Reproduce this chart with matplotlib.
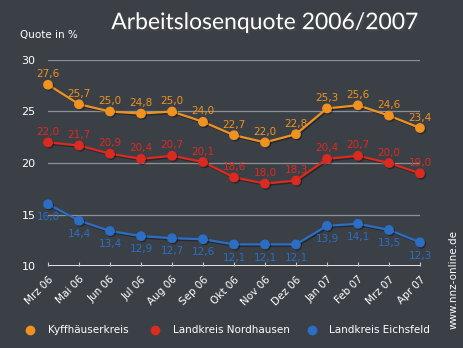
import matplotlib.pyplot as plt
import matplotlib.patheffects as pe

# Arbeitslosenquote in % je Landkreis
monate = ['Mrz 06', 'Mai 06', 'Jun 06', 'Jul 06', 'Aug 06', 'Sep 06', 'Okt 06',
          'Nov 06', 'Dez 06', 'Jan 07', 'Feb 07', 'Mrz 07', 'Apr 07']
kyffhaeuser = [27.6, 25.7, 25.0, 24.8, 25.0, 24.0, 22.7, 22.0, 22.8, 25.3, 25.6, 24.6, 23.4]
nordhausen = [22.0, 21.7, 20.9, 20.4, 20.7, 20.1, 18.6, 18.0, 18.3, 20.4, 20.7, 20.0, 19.0]
eichsfeld = [16.0, 14.4, 13.4, 12.9, 12.7, 12.6, 12.1, 12.1, 12.1, 13.9, 14.1, 13.5, 12.3]

bg = '#3b4047'
c_orange = '#f0921f'
c_red = '#dd2a1f'
c_blue = '#2c6ec4'

fig = plt.figure(figsize=(4.64, 3.48), dpi=100, facecolor=bg)
ax = fig.add_axes([0.1034, 0.2356, 0.8017, 0.592])
ax.set_facecolor(bg)

x = list(range(len(monate)))
shadow = [pe.SimpleLineShadow(offset=(1, -1), alpha=0.35), pe.Normal()]

for y in [15, 20, 25, 30]:
    ax.axhline(y, color='#8c9196', lw=0.9, zorder=1)
ax.axhline(10, color='white', lw=1.2, zorder=1)

series = [(kyffhaeuser, c_orange, 'Kyffhäuserkreis', 7.5),
          (nordhausen, c_red, 'Landkreis Nordhausen', 7.5),
          (eichsfeld, c_blue, 'Landkreis Eichsfeld', -9.5)]
for vals, col, name, dy in series:
    ax.plot(x, vals, color=col, lw=1.6, marker='o', ms=6, clip_on=False,
            zorder=3, label=name, path_effects=shadow)
    for i, v in enumerate(vals):
        ax.annotate(f'{v:.1f}'.replace('.', ','), (i, v), xytext=(0, dy),
                    textcoords='offset points', ha='center', va='center',
                    color=col, fontsize=7.5, zorder=4)

ax.set_xlim(0, 12)
ax.set_ylim(10, 30)
ax.set_yticks([10, 15, 20, 25, 30])
ax.set_xticks(x)
ax.set_xticklabels(monate, rotation=45, ha='right', va='top',
                   rotation_mode='anchor', color='white', fontsize=7.5)
ax.tick_params(axis='x', direction='in', length=3, color='#c8c8c8', pad=6)
ax.tick_params(axis='y', length=0, colors='white', labelsize=8, pad=9)
for s in ax.spines.values():
    s.set_visible(False)

fig.text(0.043, 0.898, 'Quote in %', color='white', fontsize=7.5, va='center')
fig.text(0.57, 0.935, 'Arbeitslosenquote 2006/2007', color='white',
         fontsize=16.5, ha='center', va='center', family='Lato',
         path_effects=[pe.withSimplePatchShadow(offset=(1.5, -1.5), alpha=0.6)])
fig.text(0.978, 0.198, 'www.nnz-online.de', color='white', fontsize=7.5,
         rotation=90, ha='center', va='center')

# Legende unten
for xm, col, name in [(0.065, c_orange, 'Kyffhäuserkreis'),
                      (0.335, c_red, 'Landkreis Nordhausen'),
                      (0.672, c_blue, 'Landkreis Eichsfeld')]:
    fig.lines.append(plt.Line2D([xm], [0.053], marker='o', ms=6, color=col,
                                transform=fig.transFigure))
    fig.text(xm + 0.038, 0.053, name, color='white', fontsize=7.5, va='center')

fig.savefig('out.png', dpi=100, facecolor=bg)
